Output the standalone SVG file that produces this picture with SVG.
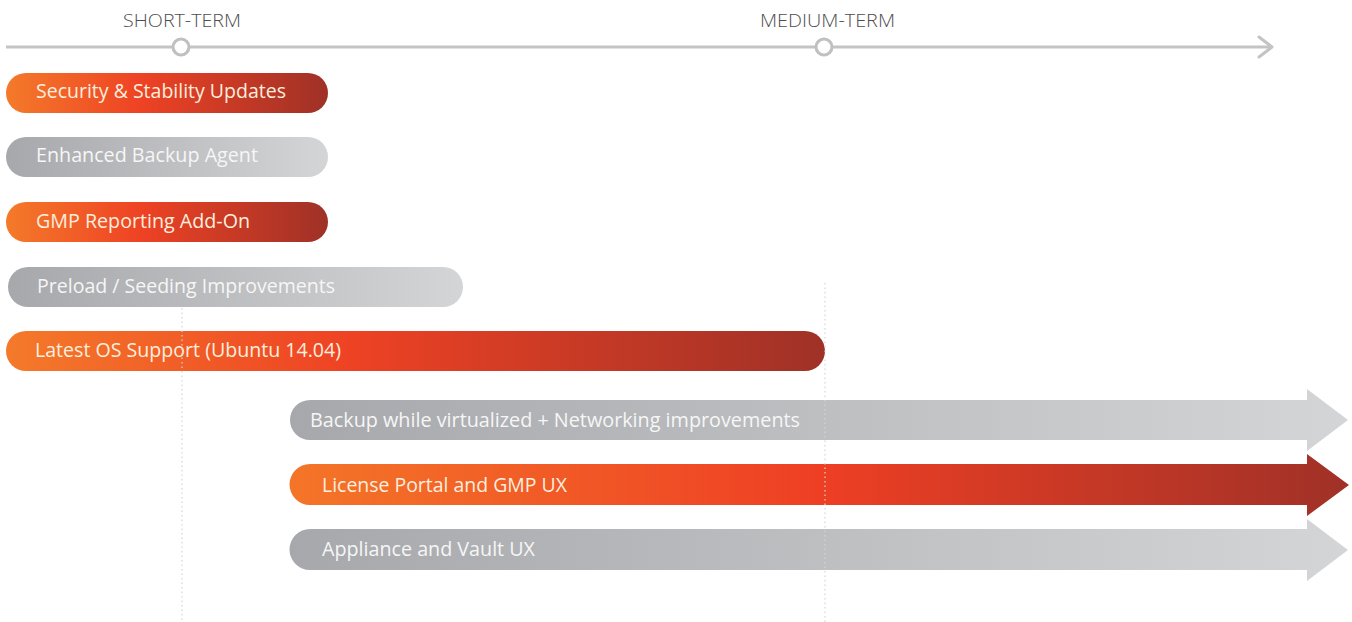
<svg xmlns="http://www.w3.org/2000/svg" width="1352" height="622" viewBox="0 0 1352 622">
<defs>
<linearGradient id="gOr" x1="0" y1="0" x2="1" y2="0">
<stop offset="0" stop-color="#f47a2a"/>
<stop offset="0.42" stop-color="#ee4224"/>
<stop offset="1" stop-color="#9f3127"/>
</linearGradient>
<linearGradient id="gOr2" x1="0" y1="0" x2="1" y2="0">
<stop offset="0" stop-color="#f47528"/>
<stop offset="0.5" stop-color="#ee3f24"/>
<stop offset="1" stop-color="#a03127"/>
</linearGradient>
<linearGradient id="gGr" x1="0" y1="0" x2="1" y2="0">
<stop offset="0" stop-color="#a6a8ab"/>
<stop offset="1" stop-color="#d4d5d7"/>
</linearGradient>
<style>
.t{font-family:"Open Sans","Liberation Sans",sans-serif;font-size:19.5px;}
.to{fill:#fdeede;}
.tg{fill:#f6f6f6;}
.hd{font-family:"Open Sans","Liberation Sans",sans-serif;font-size:18px;font-weight:300;fill:#4d4d4d;}
.axis{stroke:#c4c4c4;stroke-width:3;fill:none;}
.dot{stroke:#d6d6d6;stroke-width:1.2;stroke-dasharray:1.5 3;fill:none;}
</style>
</defs>
<rect width="1352" height="622" fill="#fff"/>

<g id="timeline">
<line class="axis" x1="6" y1="47" x2="1272" y2="47"/>
<polyline class="axis" points="1259,37 1272,47 1259,57" stroke-linecap="round" stroke-linejoin="round"/>
<circle cx="181" cy="47" r="8" fill="#fff" stroke="#c0c0c0" stroke-width="3"/>
<circle cx="824" cy="47" r="8" fill="#fff" stroke="#c0c0c0" stroke-width="3"/>
<text class="hd" x="123" y="27" textLength="118" lengthAdjust="spacingAndGlyphs">SHORT-TERM</text>
<text class="hd" x="760" y="27" textLength="135" lengthAdjust="spacingAndGlyphs">MEDIUM-TERM</text>
</g>

<g id="security">
<rect x="6" y="73" width="322" height="40" rx="20" fill="url(#gOr)"/>
<text class="t to" x="36" y="98" textLength="250" lengthAdjust="spacingAndGlyphs">Security &amp; Stability Updates</text>
</g>
<g id="backup-agent">
<rect x="6" y="137" width="322" height="40" rx="20" fill="url(#gGr)"/>
<text class="t tg" x="36" y="162" textLength="222" lengthAdjust="spacingAndGlyphs">Enhanced Backup Agent</text>
</g>
<g id="gmp-reporting">
<rect x="6" y="202" width="322" height="40" rx="20" fill="url(#gOr)"/>
<text class="t to" x="36" y="228" textLength="214" lengthAdjust="spacingAndGlyphs">GMP Reporting Add-On</text>
</g>
<g id="preload">
<rect x="8" y="267" width="455" height="40" rx="20" fill="url(#gGr)"/>
<text class="t tg" x="37" y="293" textLength="298" lengthAdjust="spacingAndGlyphs">Preload / Seeding Improvements</text>
</g>
<g id="latest-os">
<rect x="6" y="331" width="819" height="40" rx="20" fill="url(#gOr)"/>
<text class="t to" x="35" y="357" textLength="306" lengthAdjust="spacingAndGlyphs">Latest OS Support (Ubuntu 14.04)</text>
</g>
<g id="backup-virtualized">
<path d="M310 400 H1307 V389 L1348 420 L1307 451 V440 H310 A20 20 0 0 1 310 400 Z" fill="url(#gGr)"/>
<text class="t tg" x="310" y="427" textLength="490" lengthAdjust="spacingAndGlyphs">Backup while virtualized + Networking improvements</text>
</g>
<g id="license-portal">
<path d="M310 464 H1307 V454 L1349 485 L1307 516 V505 H310 A20.5 20.5 0 0 1 310 464 Z" fill="url(#gOr2)"/>
<text class="t to" x="322" y="492" textLength="245" lengthAdjust="spacingAndGlyphs">License Portal and GMP UX</text>
</g>
<g id="appliance-vault">
<path d="M310 529 H1307 V519 L1348 550 L1307 581 V570 H310 A20.5 20.5 0 0 1 310 529 Z" fill="url(#gGr)"/>
<text class="t tg" x="322" y="556" textLength="213" lengthAdjust="spacingAndGlyphs">Appliance and Vault UX</text>
</g>

<g id="connectors">
<line class="dot" x1="182" y1="308" x2="182" y2="622"/>
<line class="dot" x1="825" y1="283" x2="825" y2="622"/>
</g>
</svg>
